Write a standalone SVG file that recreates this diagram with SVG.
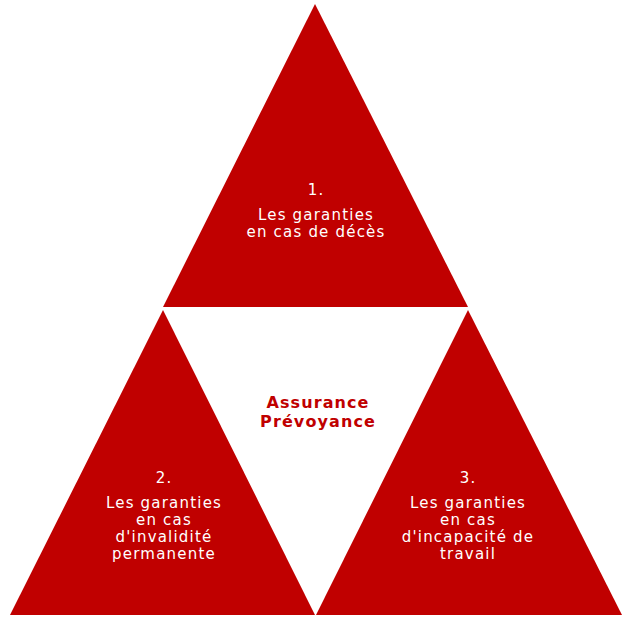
<svg xmlns="http://www.w3.org/2000/svg" width="637" height="619" viewBox="0 0 637 619">
<style>
.tri{fill:#C00000}
.t{font-family:"DejaVu Sans",Verdana,sans-serif;font-size:15px;fill:#fff;text-anchor:middle;letter-spacing:1.2px}
.c{font-family:"DejaVu Sans",Verdana,sans-serif;font-size:16px;font-weight:bold;fill:#C00000;text-anchor:middle;letter-spacing:1.1px}
</style>
<rect width="637" height="619" fill="#fff"/>
<g id="node-top">
<polygon class="tri" points="315,4 468,307 163,307"/>
<text class="t" x="316" y="195">1.</text>
<text class="t" x="316" y="220">Les garanties</text>
<text class="t" x="316" y="237">en cas de décès</text>
</g>
<g id="node-left">
<polygon class="tri" points="163,310 315,615 10,615"/>
<text class="t" x="164" y="483">2.</text>
<text class="t" x="164" y="508">Les garanties</text>
<text class="t" x="164" y="525">en cas</text>
<text class="t" x="164" y="542">d'invalidité</text>
<text class="t" x="164" y="559">permanente</text>
</g>
<g id="node-right">
<polygon class="tri" points="468,310 622,615 316,615"/>
<text class="t" x="468" y="483">3.</text>
<text class="t" x="468" y="508">Les garanties</text>
<text class="t" x="468" y="525">en cas</text>
<text class="t" x="468" y="542">d'incapacité de</text>
<text class="t" x="468" y="559">travail</text>
</g>
<g id="node-center">
<text class="c" x="318" y="408">Assurance</text>
<text class="c" x="318" y="427">Prévoyance</text>
</g>
<g id="connectors"/>
</svg>
